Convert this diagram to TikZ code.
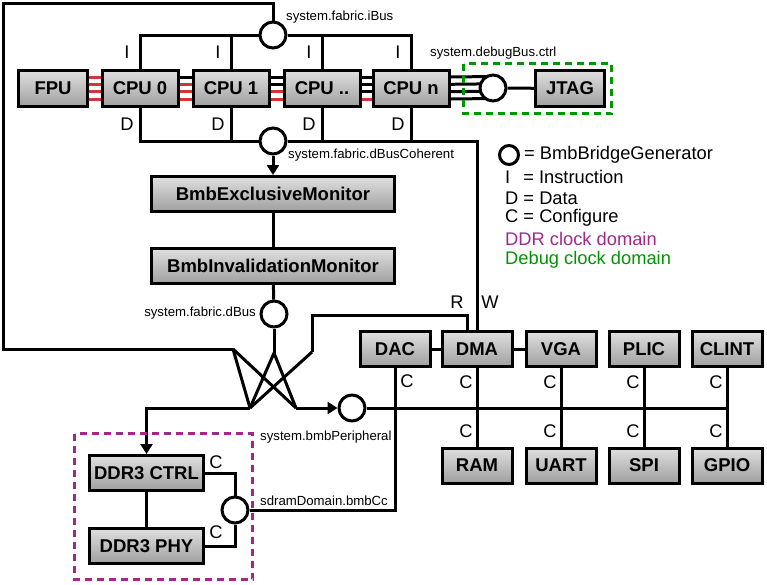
\documentclass[tikz,border=0pt]{standalone}
\usepackage{fontspec}
\setmainfont{Liberation Sans}
\usetikzlibrary{arrows.meta,calc,backgrounds}
\definecolor{ddrcol}{RGB}{160,40,140}
\definecolor{dbgcol}{RGB}{0,150,0}
\definecolor{linkred}{RGB}{205,55,55}

\begin{document}
\begin{tikzpicture}[x=1pt,y=-1pt,
  wire/.style={line width=3pt},
  blk/.style={draw, wire, top color=gray!25, bottom color=gray!75,
    font=\bfseries\fontsize{18.5}{20}\selectfont, minimum height=35, inner sep=0},
  bridge/.style={circle, draw, wire, fill=white, minimum size=26, inner sep=0},
  tag/.style={font=\fontsize{13.2}{15}\selectfont, inner sep=0},
  lbl/.style={font=\fontsize{18.3}{20}\selectfont, inner sep=0},
  clockbox/.style={wire, dash pattern=on 7pt off 5pt},
  arr/.style={-{Triangle[length=10pt,width=12pt]}}]

\useasboundingbox (0,0) rectangle (767,584);

% ===== CPU cluster =====
\node[blk, minimum width=69, minimum height=36] (fpu) at (53,88.5) {FPU};
\foreach \cpu/\x/\lab in {cpu0/140/CPU 0, cpu1/231/CPU 1, cpux/322/CPU .., cpun/411/CPU n} {
  \node[blk, minimum width=76, minimum height=36] (\cpu) at (\x,88.5) {\lab};
}
\node[bridge] (ibus) at (273,35) {};
\node[bridge] (dbc) at (273,141) {};
\node[bridge] (dbg) at (493,88) {};
\node[blk, minimum width=69, minimum height=36] (jtag) at (570,88.5) {JTAG};

% ===== Monitors =====
\node[blk, minimum width=243] (excl) at (273,194) {BmbExclusiveMonitor};
\node[blk, minimum width=243] (inval) at (273,266) {BmbInvalidationMonitor};
\node[bridge] (dbus) at (274,314) {};

% crossbar points
\coordinate (loop) at (3,3);
\coordinate (xl) at (233,349);
\coordinate (xm) at (274,353);
\coordinate (xr) at (312,352);
\coordinate (rturn) at (312,315);
\coordinate (xa) at (250,408);
\coordinate (xb) at (296,408);

% ===== Peripherals =====
\foreach \n/\x/\lab in {dac/395/DAC, dma/477/DMA, vga/561/VGA, plic/644/PLIC, clint/727/CLINT} {
  \node[blk, minimum width=70] (\n) at (\x,349) {\lab};
}
\foreach \n/\x/\lab in {ram/477/RAM, uart/561/UART, spi/644/SPI, gpio/727/GPIO} {
  \node[blk, minimum width=70] (\n) at (\x,465.5) {\lab};
}
\node[bridge] (bp) at (352,408) {};

% ===== DDR domain =====
\node[blk, minimum width=114] (ddrc) at (146.5,473) {DDR3 CTRL};
\node[blk, minimum width=114] (ddrp) at (146.5,546) {DDR3 PHY};
\node[bridge] (sdc) at (235,510) {};

% ===== Wires =====
\begin{pgfonlayer}{background}
\begin{scope}[wire]
\foreach \a/\b/\lev in {fpu/cpu0/1, cpu0/cpu1/2, cpu1/cpux/3, cpux/cpun/4} {
  \foreach \dy [count=\idx] in {11.5,4.2,-3.2,-10.5} {
    \ifnum\idx<\lev \def\col{black}\else\def\col{linkred}\fi
    \draw[\col] ([yshift=\dy]\a.east) -- ([yshift=\dy]\b.west);
  }
}
\foreach \dy in {11.5,4.2,-3.2,-10.5}
  \draw ([yshift=\dy]cpun.east) -- ([yshift=\dy]dbg.center);
\draw (dbg) -- (jtag);

\draw (cpu0.north) |- (ibus.west);
\draw (cpu1.north) |- (ibus.west);
\draw (cpux.north) |- (ibus.east);
\draw (cpun.north) |- (ibus.east);
\draw (ibus.north) |- (loop) |- (xl);

\draw (cpu0.south) |- (dbc.west);
\draw (cpu1.south) |- (dbc.west);
\draw (cpux.south) |- (dbc.east);
\draw (cpun.south) |- (dbc.east);
\draw (dbc.east) -| (dma.north);
\draw[arr] (dbc.south) -- (excl.north);
\draw (excl) -- (inval);
\draw (inval) -- (dbus);
\draw (dbus) -- (xm);

\draw (xl) -- (xa);
\draw (xl) -- (xb);
\draw (xm) -- (xa);
\draw (xm) -- (xb);
\draw (xr) -- (xa);
\draw ([xshift=-10pt]dma.north) |- (rturn) -- (xr);
\draw[arr] (xa) -| (ddrc.north);
\draw[arr] (xb) -- (bp.west);

\draw (bp.east) -- (bp.east -| clint.south);
\draw (dac) -- (dma);
\draw (dma) -- (vga);
\foreach \u/\l in {dma/ram, vga/uart, plic/spi, clint/gpio}
  \draw (\u) -- (\l);
\draw (dac.south) |- (sdc.east);
\draw (sdc.north) |- (ddrc.east);
\draw (sdc.south) |- (ddrp.east);
\draw (ddrc) -- (ddrp);
\end{scope}
\end{pgfonlayer}

% ===== Clock domains =====
\draw[clockbox, ddrcol] (74.5,433.5) rectangle (252.5,579.5);
\draw[clockbox, dbgcol] (463.5,63.5) rectangle (611.5,113.5);

% ===== Labels =====
\node[tag, anchor=west] (ibusl) at (286,17) {system.fabric.iBus};
\node[tag, anchor=west] (dbgl) at (430,53) {system.debugBus.ctrl};
\node[tag, anchor=west] (dbcl) at (288,155) {system.fabric.dBusCoherent};
\node[tag, anchor=east] (dbusl) at (256,313) {system.fabric.dBus};
\node[tag, anchor=west] (bpl) at (260,437) {system.bmbPeripheral};
\node[tag, anchor=west] (sdcl) at (260,501) {sdramDomain.bmbCc};

\foreach \n in {cpu0,cpu1,cpux,cpun} {
  \node[lbl] (i-\n) at ($(\n.north)+(-13,-17)$) {I};
  \node[lbl] (d-\n) at ($(\n.south)+(-13,16)$) {D};
}
\node[lbl] (rl) at (457,302) {R};
\node[lbl] (wl) at (490,302) {W};

\node[lbl] (c-dac) at (407,381) {C};
\foreach \n in {dma,vga,plic,clint}
  \node[lbl] (c-\n) at ($(\n.south)+(-11,14)$) {C};
\foreach \n in {ram,uart,spi,gpio}
  \node[lbl] (c-\n) at ($(\n.north)+(-11,-15)$) {C};
\node[lbl] (c-ddrc) at (216,462) {C};
\node[lbl] (c-ddrp) at (216,532) {C};

% ===== Legend =====
\node[bridge, minimum size=19] (legc) at (509,155) {};
\node[lbl, anchor=west] (leg1) at (524,155) {= BmbBridgeGenerator};
\node[lbl, anchor=west] (leg2) at (505,177) {I\hspace{13pt}= Instruction};
\node[lbl, anchor=west] (leg3) at (505,198) {D = Data};
\node[lbl, anchor=west] (leg4) at (505,218) {C = Configure};
\node[lbl, anchor=west, text=ddrcol] (leg5) at (505,239) {DDR clock domain};
\node[lbl, anchor=west, text=dbgcol] (leg6) at (505,260) {Debug clock domain};

\end{tikzpicture}
\end{document}
